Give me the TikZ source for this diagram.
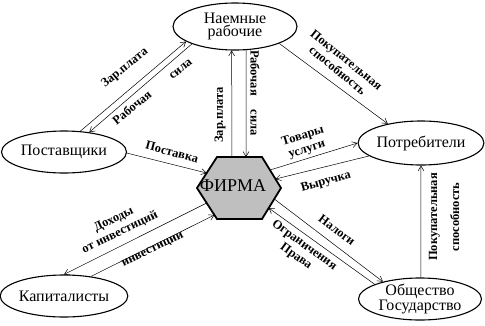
\documentclass[tikz,border=0pt]{standalone}
\usepackage{fontspec}
\setmainfont{Liberation Serif}
\usetikzlibrary{shapes.geometric,arrows.meta}
\begin{document}
\begin{tikzpicture}[x=1pt,y=-1pt,
  ell/.style={draw,line width=1.1pt,ellipse,inner sep=0pt,align=center,font=\fontsize{16}{13.5}\selectfont},
  conn/.style={line width=0.5pt,-{Straight Barb[length=5pt,width=6pt]}},
  lbl/.style={font=\bfseries\fontsize{12.5}{14}\selectfont,inner sep=0pt,align=center},
  hexa/.style={line width=1.8pt,fill=gray!50,line join=miter}]
\useasboundingbox (0,0) rectangle (485,325);
% ellipses
\node[ell,minimum width=124pt,minimum height=47pt] (nr) at (235,26.5) {Наемные\\рабочие};
\node[ell,minimum width=125pt,minimum height=42pt] (post) at (64,152) {Поставщики};
\node[ell,minimum width=122pt,minimum height=44pt] (potr) at (421,143) {Потребители};
\node[ell,minimum width=125pt,minimum height=42pt] (kap) at (64,296) {Капиталисты};
\node[ell,minimum width=123pt,minimum height=42pt] (ob) at (420,299) {Общество\\Государство};
% firm hexagon
\draw[hexa] (197,188) -- (217,157) -- (262,157) -- (281,188) -- (262,219) -- (217,219) -- cycle;
\node[font=\fontsize{18}{18}\selectfont] (firm) at (233,186) {ФИРМА};
\coordinate (fzp) at (232,157);
\coordinate (frs) at (246,157);
\coordinate (fpost) at (206.7,173);
\coordinate (ftov) at (270,170);
\coordinate (fvyr) at (275.5,179);
\coordinate (fdoh) at (206.7,203);
\coordinate (finv) at (214.4,215);
\coordinate (fnal) at (274.3,199);
\coordinate (fogr) at (268.7,208);
% connectors
\draw[conn] (fzp) -- (nr.262.7);
\draw[conn] (nr.295.1) -- (frs);
\draw[conn] (post.52) -- (nr.197.2);
\draw[conn] (nr.202.4) -- (post.38.2);
\draw[conn] (post.-1) -- (fpost);
\draw[conn] (nr.339) -- (potr.150);
\draw[conn] (ftov) -- (potr.west);
\draw[conn] (potr.194.3) -- (fvyr);
\draw[conn] (fdoh) -- (kap.north);
\draw[conn] (kap.36.2) -- (finv);
\draw[conn] (fnal) -- (ob.155.3);
\draw[conn] (ob.162.7) -- (fogr);
\draw[conn] (ob.88) -- (potr.south);
% labels
\node[lbl,rotate=90] (l1) at (220,115) {Зар.плата};
\node[lbl,rotate=-90] (l2) at (255,93) {Рабочая\hspace{14pt}сила};
\node[lbl,rotate=39] (l3) at (125,68) {Зар.плата};
\node[lbl,rotate=39] (l4) at (152,91) {Рабочая\hspace{26pt}сила};
\node[lbl,rotate=-15] (l5) at (172,152) {Поставка};
\node[lbl,rotate=-39] (l6) at (342,65) {Покупательная\\способность};
\node[lbl,rotate=17] (l7) at (305,143) {Товары\\услуги};
\node[lbl,rotate=16] (l8) at (326,182) {Выручка};
\node[lbl,rotate=26] (l9) at (117,226) {Доходы\\от инвестиций};
\node[lbl,rotate=26] (l10) at (153,250) {инвестиции};
\node[lbl,rotate=-37] (l11) at (337,230) {Налоги};
\node[lbl,rotate=-36] (l12) at (300,251) {Ограничения\\Права};
\node[lbl,rotate=90] (l13) at (444,217) {Покупательная\\[8pt]способность};
\end{tikzpicture}
\end{document}
